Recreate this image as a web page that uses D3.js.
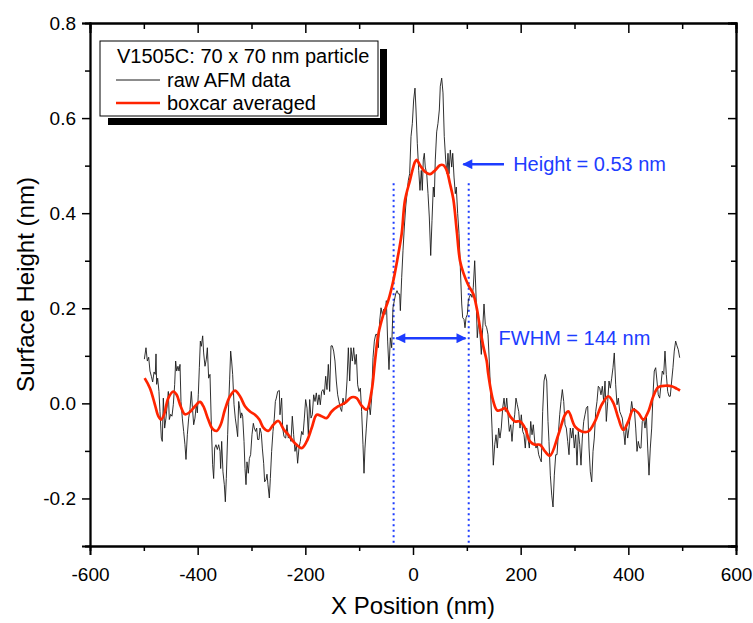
<!DOCTYPE html>
<html>
<head>
<meta charset="utf-8">
<script src="https://cdn.jsdelivr.net/npm/d3@7"></script>
<style>
  body { margin: 0; background: #fff; }
  text { font-family: "Liberation Sans", Arial, sans-serif; }
</style>
</head>
<body>
<div id="chart"></div>
<script>
// raw AFM line profile (x in nm, height in nm)
var rawX = [-499,-496,-493.5,-491,-488.6,-486,-483.6,-481,-478.7,-477.4,-476.2,-474.3,-471.9,-470,-467.5,-465.7,-463.8,-461.3,-458.9,-456.4,-454.5,-452.7,-450.2,-447.7,-445.2,-442.7,-440.9,-439,-436.6,-434.7,-432.8,-431,-428.5,-426,-423.6,-421.7,-419.2,-416.7,-414.3,-411.8,-409.9,-407.4,-405,-402.5,-400.6,-398.8,-396.9,-395,-393.2,-390.7,-388.9,-386.4,-383.9,-382,-379.6,-377.1,-374.6,-372.2,-370.3,-368.4,-366,-363.5,-361,-358.5,-357.3,-355.4,-353,-350.5,-348.6,-346.8,-344.3,-342.4,-340.6,-338.7,-336.9,-335,-332.5,-330.1,-327.6,-325.7,-323.8,-322,-320.1,-318.3,-316.4,-313.9,-312.1,-310.2,-308.4,-305.9,-304,-301.6,-299.1,-296.6,-294.8,-292.3,-290.4,-288.6,-286.1,-284.2,-281.8,-279.9,-277.4,-275.6,-273.1,-271.2,-269.4,-266.9,-265,-262.6,-260.1,-257.6,-255.7,-253.9,-251.4,-248.3,
  -247.1,-244,-242.1,-239.6,-236.5,-234.1,-231.6,-229.1,-226.6,-224.2,-221.7,-219.2,-216.7,-214.3,-211.8,-209.3,-206.8,-204.3,-201.8,-199.4,-196.9,-194.4,-191.9,-189.5,-187,-184.5,-182,-179.6,-177.1,-174.6,-172.2,-169.7,-167.2,-164.7,-162.2,-159.8,-157.3,-154.8,-152.3,-149.9,-147.4,-144.9,-142.4,-139.9,-137.5,-135,-132.5,-130,-127.6,-125.1,-122.6,-120.1,-117.6,-115.2,-112.7,-110.2,-107.7,-105.3,-102.8,-100.3,-97.8,-95.4,-92.9,-91,-89.2,-86.7,-84.2,-81.7,-79.3,-76.8,-74.3,-71.8,-69.3,-66.9,-64.4,-61.9,-59.4,-57,-54.5,-52,-49.5,-47.1,-44.6,-42.1,-39.6,-37.2,-34.7,-32.2,-29.7,-27.2,-24.8,-23.5,-21,-18.6,-16.1,-13.6,-11.1,-8.7,-6.2,-3.7,-1.2,1.2,3.7,
  5.6,8,10.6,13,15.4,17.3,19.1,21,22.8,25.5,27.9,30.3,32.9,35.3,37.7,39.6,41.4,44,46.4,48.9,50.7,53.3,55.7,58.1,60.7,63.2,65,66.9,69.3,71.9,73.8,76.2,78.6,80.4,83,85.5,87.9,90.5,92.3,94.7,96.6,98.5,100.9,102.8,104.6,107.2,109.6,112,114.6,117,119.4,122,124.5,126.9,129.5,131.9,134.3,136.9,139.3,141.7,144.3,146.8,149.2,151.8,154.2,156.6,159.2,161.6,164,166.6,169.1,171.5,174.1,176.5,178.9,181.5,183.9,186.3,188.9,191.3,193.8,196.4,198.8,201.2,203.8,206.2,208.6,211.2,213.6,216.1,218.7,221.1,223.5,226.1,228.5,230.9,233.5,235.9,238.3,240.9,243.4,245.8,248.4,250.8,
  252.6,255.1,257.7,260.1,262.5,265.1,267.5,269.9,272.5,274.9,277.4,280,282.4,284.8,287.4,289.8,292.2,294.8,297.2,299.6,302.2,304.7,307.1,309.7,312.1,314.5,317.1,319.5,321.9,324.5,327,329.4,332,334.4,336.8,339.4,341.8,344.2,346.8,349.2,351.7,354.3,356.7,359.1,361.7,364.1,366.5,369.1,371.5,373.9,376.5,379,381.4,384,386.4,388.8,391.4,393.8,396.2,398.8,401.2,403.6,406.2,408.7,411.1,413.7,416.1,418.5,421.1,423.5,425.9,428.5,431,433.4,436,438.4,440.8,443.4,445.8,448.2,450.8,453.2,455.6,458.2,460.6,463.1,465.7,468.1,470.5,473.1,475.5,477.9,480.5,482.9,485.3,487.9,490.4,492.8,495.4];
var rawY = [0.093,0.117,0.089,0.097,0.068,0.057,0.045,0.066,0.061,0.104,0.04,0.053,0.025,-0.017,-0.073,-0.08,0.011,-0.052,-0.031,-0.002,0.025,-0.034,-0.023,-0.027,-0.002,0.04,0.089,0.068,0.078,0.068,0.082,0.004,-0.031,-0.059,-0.087,-0.118,-0.066,-0.031,-0.013,0.025,-0.006,-0.045,-0.031,-0.002,-0.02,0.019,0.075,0.131,0.12,0.142,0.106,0.078,0.093,0.117,0.053,0.061,-0.045,-0.129,-0.158,-0.094,-0.087,-0.097,-0.087,-0.101,-0.137,-0.08,-0.144,-0.171,-0.207,-0.158,-0.066,-0.002,0.051,0.11,0.089,0.061,-0.002,-0.031,-0.052,-0.07,0.004,-0.01,-0.031,-0.02,-0.027,-0.08,-0.137,-0.171,-0.123,-0.147,-0.116,-0.108,-0.066,-0.042,-0.052,-0.059,-0.052,-0.076,-0.076,-0.052,-0.063,-0.094,-0.126,-0.165,-0.161,-0.149,-0.171,-0.199,-0.158,-0.101,-0.059,-0.031,0.004,0.011,0.025,0.027,
  -0.024,0.011,-0.052,-0.07,-0.073,-0.045,-0.073,-0.07,-0.08,-0.027,-0.066,-0.101,-0.087,-0.126,-0.094,-0.08,-0.059,-0.066,-0.031,0.008,-0.01,-0.066,0.008,-0.031,-0.024,0.018,0.004,0.022,-0.003,0.018,-0.003,0.025,0.029,0.018,0.057,0.029,0.082,0.025,0.121,0.121,0.11,0.089,0.047,0.018,0.004,-0.01,-0.017,0.011,-0.003,0.004,0.047,0.117,0.047,0.117,0.089,0.117,0.082,0.103,0.039,0.025,0.032,-0.017,-0.087,-0.147,-0.094,-0.052,-0.01,-0.003,-0.024,0.011,0.096,0.131,0.145,0.145,0.117,0.173,0.201,0.187,0.198,0.187,0.216,0.131,0.071,0.138,0.117,0.201,0.216,0.23,0.237,0.23,0.23,0.195,0.265,0.321,0.371,0.413,0.441,0.469,0.483,0.561,0.589,0.638,0.663,
  0.617,0.547,0.49,0.448,0.49,0.448,0.512,0.526,0.497,0.483,0.441,0.392,0.311,0.385,0.455,0.434,0.512,0.571,0.589,0.617,0.667,0.684,0.653,0.561,0.512,0.483,0.526,0.483,0.533,0.497,0.526,0.476,0.441,0.455,0.399,0.357,0.286,0.209,0.18,0.177,0.159,0.18,0.187,0.216,0.223,0.23,0.223,0.244,0.3,0.23,0.138,0.173,0.145,0.103,0.159,0.209,0.166,0.159,0.145,0.089,0.018,-0.052,-0.13,-0.087,-0.066,-0.094,-0.052,-0.073,-0.052,-0.01,0.011,-0.017,0.011,-0.024,-0.059,-0.045,-0.08,-0.045,-0.024,0.011,-0.003,-0.017,-0.052,-0.024,-0.059,-0.066,-0.094,-0.052,-0.073,-0.094,-0.038,-0.066,-0.045,-0.08,-0.094,-0.087,-0.108,-0.116,-0.123,-0.017,0.047,0.061,0.047,-0.038,
  -0.08,-0.151,-0.193,-0.218,-0.151,-0.108,-0.108,-0.066,-0.024,0.004,0.029,0.004,-0.045,-0.052,-0.08,-0.108,-0.052,-0.073,-0.052,-0.094,-0.066,-0.13,-0.059,-0.087,-0.13,-0.073,-0.038,-0.024,-0.01,-0.006,-0.094,-0.144,-0.165,-0.101,-0.073,-0.017,0.004,0.036,0.032,0.018,0.036,0.004,0.047,-0.038,0.004,0.047,0.032,0.053,0.075,0.106,0.039,-0.003,0.011,-0.017,-0.024,-0.031,-0.059,-0.087,-0.045,-0.073,-0.052,-0.024,0.004,-0.017,-0.01,-0.052,-0.101,-0.08,-0.094,-0.094,-0.038,-0.031,-0.052,-0.024,-0.094,-0.151,-0.094,-0.052,0.018,0.068,0.075,0.047,0.018,0.011,0.039,0.068,0.061,0.11,0.061,0.025,0.015,0.015,0.047,0.075,0.11,0.131,0.121,0.113,0.096];

// boxcar averaged profile
var avgX = [-498.5,-488.6,-479.3,-473.1,-468.1,-462.6,-454.5,-445.2,-439,-431.6,-423.6,-414.3,-405,-395.7,-389.5,-380.3,-372.1,-364.7,-357.3,-349.3,-340,-330.7,-321.4,-312.1,-302.8,-293.5,-285.5,-278,-268.8,-259.5,-250.2,-240,-231.6,-219.2,-206.8,-197.5,-188.2,-178.9,-169.7,-160.4,-151.1,-138.7,-126.3,-113.9,-104.6,-96.6,-86,-77,-70.6,-64.4,-55,-46,-36.6,-28.4,-21,-14.9,-5.6,3.7,6.9,13,22.3,31.6,40.9,50.2,56.3,62.6,68.7,74.9,81.2,87.3,93.4,102.7,112,118.3,124.5,130.6,136.9,139.9,149.2,156.6,164.8,170.9,180.2,189.5,198.8,208.1,217.3,226.6,235.9,245.2,254.5,270,282.4,288.5,301,313.4,325.7,338.1,350.5,362.8,372.1,381.4,390.7,400,409.2,418.5,427.8,437.1,446.4,455.7,468.1,480.5,489.8,496];
var avgY = [0.053,0.032,-0.003,-0.027,-0.034,-0.024,0.011,0.025,0.018,-0.006,-0.023,-0.018,-0.006,0.003,-0.006,-0.034,-0.054,-0.058,-0.045,-0.013,0.015,0.027,0.015,-0.006,-0.017,-0.024,-0.034,-0.051,-0.058,-0.045,-0.037,-0.055,-0.066,-0.084,-0.094,-0.08,-0.052,-0.024,-0.027,-0.031,-0.017,-0.006,0.001,0.013,0.011,-0.003,-0.013,0.025,0.089,0.145,0.187,0.216,0.258,0.307,0.357,0.427,0.469,0.508,0.512,0.501,0.487,0.482,0.49,0.501,0.501,0.49,0.462,0.43,0.364,0.3,0.275,0.249,0.23,0.201,0.159,0.12,0.089,0.061,0.004,-0.015,-0.013,-0.01,-0.027,-0.038,-0.038,-0.052,-0.08,-0.087,-0.087,-0.101,-0.11,-0.066,-0.024,-0.017,-0.049,-0.059,-0.059,-0.038,-0.003,0.015,0.001,-0.031,-0.056,-0.038,-0.013,-0.02,-0.034,-0.017,0.015,0.034,0.037,0.036,0.031,0.027];

var xTicks = [-600, -400, -200, 0, 200, 400, 600],
    xMinor = [-500, -300, -100, 100, 300, 500],
    yTicks = [-0.2, 0.0, 0.2, 0.4, 0.6, 0.8],
    yMinor = [-0.3, -0.1, 0.1, 0.3, 0.5, 0.7];

var legendTitle = "V1505C: 70 x 70 nm particle",
    legendNames = ["raw AFM data", "boxcar averaged"];

var heightLabel = "Height = 0.53 nm", heightLevel = 0.503,
    fwhmLabel = "FWHM = 144 nm", fwhmLevel = 0.137,
    fwhmEdges = [-36, 103.5], fwhmTop = 0.463;

var width = 753, height = 623;
var margin = { top: 23, right: 17, bottom: 77, left: 90 };
var mwidth = width - margin.left - margin.right,
    mheight = height - margin.top - margin.bottom;

var blue = "#1d3cff", red = "#ff2400";

var svg = d3.select("#chart").append("svg")
    .attr("width", width)
    .attr("height", height);

var defs = svg.append("defs");
defs.append("marker")
    .attr("id", "arrow")
    .attr("viewBox", "0 0 10 10")
    .attr("refX", 9).attr("refY", 5)
    .attr("markerUnits", "userSpaceOnUse")
    .attr("markerWidth", 13).attr("markerHeight", 10)
    .attr("orient", "auto-start-reverse")
    .append("path")
    .attr("d", "M0,0 L10,5 L0,10 Z")
    .attr("fill", blue);

var g = svg.append("g")
    .attr("transform", "translate(" + margin.left + "," + margin.top + ")");

var x = d3.scaleLinear().domain([-600, 600]).range([0, mwidth]);
var y = d3.scaleLinear().domain([-0.3, 0.8]).range([mheight, 0]);

// axes: bottom/left outward with labels, top/right inward mirrors
function styleAxis(sel) {
    sel.select(".domain").attr("stroke", "#000").attr("stroke-width", 1.8);
    sel.selectAll(".tick line").attr("stroke", "#000").attr("stroke-width", 1.5);
    sel.selectAll("text").attr("fill", "#000")
        .style("font-size", "19px")
        .style("font-family", "'Liberation Sans', Arial, sans-serif");
}

g.append("g")
    .attr("transform", "translate(0," + mheight + ")")
    .call(d3.axisBottom(x).tickValues(xMinor).tickSize(5).tickFormat(""))
    .call(styleAxis);
g.append("g")
    .attr("transform", "translate(0," + mheight + ")")
    .call(d3.axisBottom(x).tickValues(xTicks).tickSize(9).tickPadding(13).tickFormat(function (d) { return String(d); }))
    .call(styleAxis);

g.append("g")
    .call(d3.axisLeft(y).tickValues(yMinor).tickSize(5).tickFormat(""))
    .call(styleAxis);
g.append("g")
    .call(d3.axisLeft(y).tickValues(yTicks).tickSize(8).tickPadding(6).tickFormat(function (d) { return d.toFixed(1); }))
    .call(styleAxis);

g.append("g")
    .call(d3.axisTop(x).tickValues(xMinor).tickSize(-6).tickFormat(""))
    .call(styleAxis);
g.append("g")
    .call(d3.axisTop(x).tickValues(xTicks).tickSize(-10).tickFormat(""))
    .call(styleAxis);

g.append("g")
    .attr("transform", "translate(" + mwidth + ",0)")
    .call(d3.axisRight(y).tickValues(yMinor).tickSize(-5).tickFormat(""))
    .call(styleAxis);
g.append("g")
    .attr("transform", "translate(" + mwidth + ",0)")
    .call(d3.axisRight(y).tickValues(yTicks).tickSize(-8).tickFormat(""))
    .call(styleAxis);

// axis titles
svg.append("text")
    .attr("x", margin.left + x(0))
    .attr("y", 614)
    .attr("text-anchor", "middle")
    .style("font-size", "24px")
    .text("X Position (nm)");

svg.append("text")
    .attr("transform", "translate(34," + (margin.top + y(0.25)) + ") rotate(-90)")
    .attr("text-anchor", "middle")
    .style("font-size", "24px")
    .text("Surface Height (nm)");

// FWHM guide lines (dotted)
g.selectAll(".fwhm-edge")
    .data(fwhmEdges)
    .enter().append("line")
    .attr("class", "fwhm-edge")
    .attr("x1", function (d) { return x(d); })
    .attr("x2", function (d) { return x(d); })
    .attr("y1", y(fwhmTop))
    .attr("y2", y(-0.3))
    .attr("stroke", blue)
    .attr("stroke-width", 2)
    .attr("stroke-dasharray", "2,3.5");

// data lines
var rawPts = rawX.map(function (d, i) { return [d, rawY[i]]; });
var avgPts = avgX.map(function (d, i) { return [d, avgY[i]]; });

var line = d3.line()
    .x(function (d) { return x(d[0]); })
    .y(function (d) { return y(d[1]); });

g.append("path")
    .datum(rawPts)
    .attr("fill", "none")
    .attr("stroke", "#1a1a1a")
    .attr("stroke-width", 0.9)
    .attr("stroke-linejoin", "round")
    .attr("d", line);

g.append("path")
    .datum(avgPts)
    .attr("fill", "none")
    .attr("stroke", red)
    .attr("stroke-width", 2.7)
    .attr("stroke-linejoin", "round")
    .attr("d", line.curve(d3.curveCatmullRom.alpha(0.5)));

// annotations
g.append("line")
    .attr("x1", x(169)).attr("x2", x(93.5))
    .attr("y1", y(heightLevel)).attr("y2", y(heightLevel))
    .attr("stroke", blue).attr("stroke-width", 2.6)
    .attr("marker-end", "url(#arrow)");

g.append("text")
    .attr("x", x(186)).attr("y", y(heightLevel))
    .attr("dy", "0.35em")
    .attr("fill", blue)
    .style("font-size", "20px")
    .text(heightLabel);

g.append("line")
    .attr("x1", x(-31)).attr("x2", x(97.5))
    .attr("y1", y(fwhmLevel)).attr("y2", y(fwhmLevel))
    .attr("stroke", blue).attr("stroke-width", 2.6)
    .attr("marker-start", "url(#arrow)")
    .attr("marker-end", "url(#arrow)");

g.append("text")
    .attr("x", x(159)).attr("y", y(fwhmLevel))
    .attr("dy", "0.35em")
    .attr("fill", blue)
    .style("font-size", "20px")
    .text(fwhmLabel);

// legend with drop shadow
var lg = svg.append("g").attr("transform", "translate(100,41)");
lg.append("rect")
    .attr("x", 8).attr("y", 8)
    .attr("width", 279).attr("height", 76)
    .attr("fill", "#000");
lg.append("rect")
    .attr("x", -1).attr("y", -1)
    .attr("width", 281).attr("height", 78)
    .attr("fill", "#fff");
lg.append("rect")
    .attr("x", 0).attr("y", 0)
    .attr("width", 278).attr("height", 75)
    .attr("fill", "#fff")
    .attr("stroke", "#000")
    .attr("stroke-width", 1);

lg.append("text")
    .attr("x", 17).attr("y", 22)
    .style("font-size", "20px")
    .text(legendTitle);

var legendColors = ["#1a1a1a", red],
    legendWidths = [1, 2.7];

var rows = lg.selectAll(".row")
    .data(legendNames)
    .enter().append("g")
    .attr("class", "row")
    .attr("transform", function (d, i) { return "translate(0," + (39 + i * 23) + ")"; });

rows.append("line")
    .attr("x1", 16).attr("x2", 60)
    .attr("stroke", function (d, i) { return legendColors[i]; })
    .attr("stroke-width", function (d, i) { return legendWidths[i]; });

rows.append("text")
    .attr("x", 67)
    .attr("dy", "0.35em")
    .style("font-size", "20px")
    .text(function (d) { return d; });
</script>
</body>
</html>
